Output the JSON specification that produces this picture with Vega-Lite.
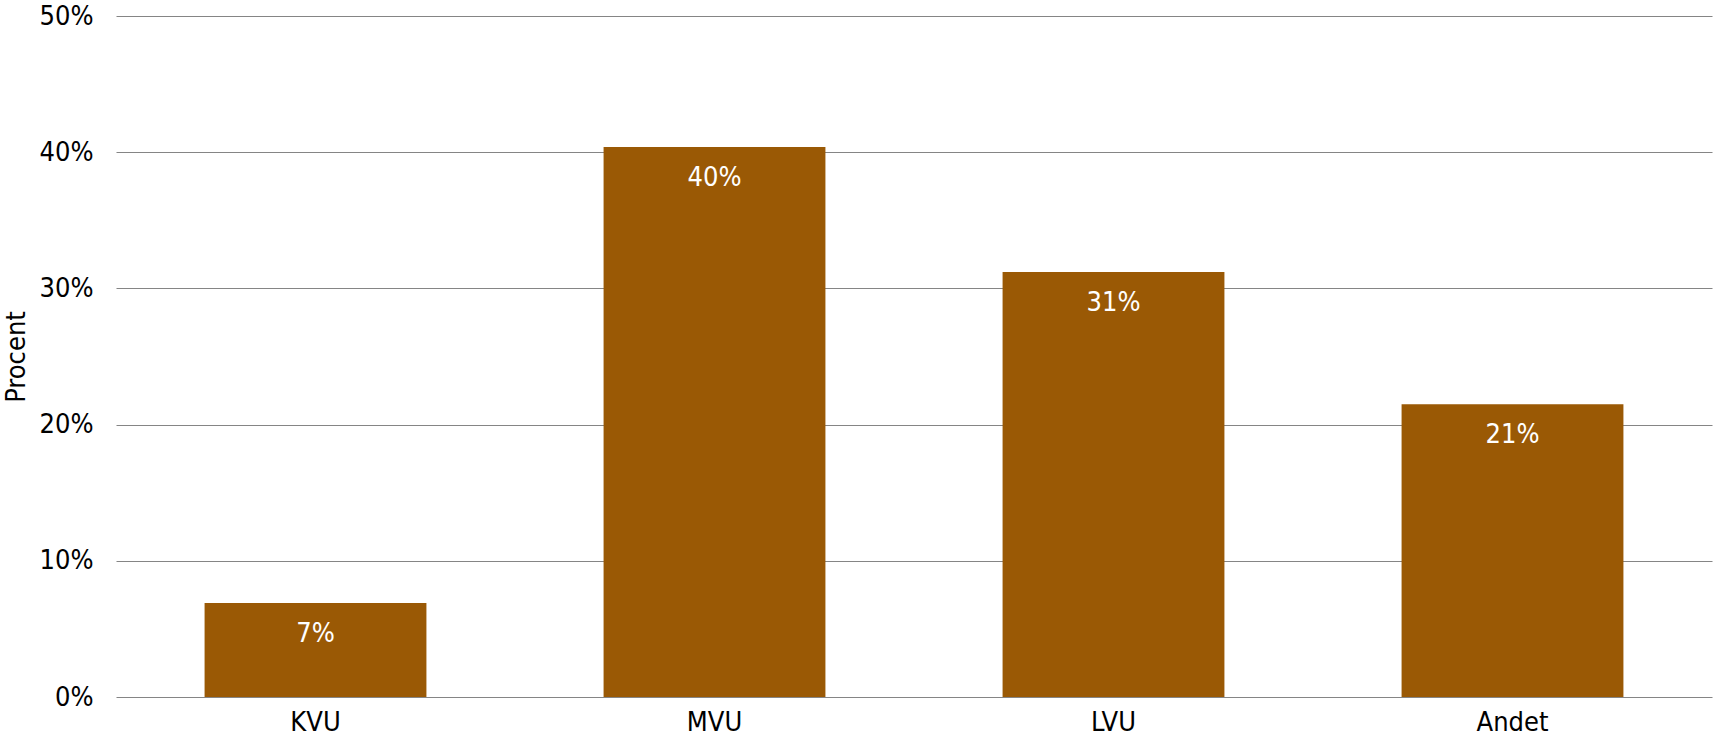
{
  "$schema": "https://vega.github.io/schema/vega-lite/v6.json",
  "autosize": {"type": "none"},
  "width": 1596,
  "height": 681,
  "padding": {"left": 116, "top": 16, "right": 3, "bottom": 42},
  "background": "white",
  "config": {
    "view": {"stroke": null},
    "font": "DejaVu Sans Condensed"
  },
  "data": {
    "values": [
      {"kategori": "KVU", "andel": 0.0691},
      {"kategori": "MVU", "andel": 0.4039},
      {"kategori": "LVU", "andel": 0.3120},
      {"kategori": "Andet", "andel": 0.2149}
    ]
  },
  "encoding": {
    "x": {
      "field": "kategori",
      "type": "nominal",
      "sort": null,
      "scale": {"paddingInner": 0.444, "paddingOuter": 0.222},
      "axis": {
        "title": null,
        "labelAngle": 0,
        "domain": false,
        "ticks": false,
        "labelPadding": 12,
        "labelFontSize": 27,
        "labelColor": "#000000",
        "labelFont": "DejaVu Sans Condensed"
      }
    },
    "y": {
      "field": "andel",
      "type": "quantitative",
      "scale": {"domain": [0, 0.5], "nice": false},
      "axis": {
        "title": "Procent",
        "titleFont": "DejaVu Sans Condensed",
        "titleFontSize": 27,
        "titleFontWeight": "normal",
        "titleColor": "#000000",
        "titlePadding": 9,
        "values": [0, 0.1, 0.2, 0.3, 0.4, 0.5],
        "format": ".0%",
        "domain": false,
        "ticks": false,
        "labelPadding": 23,
        "labelFontSize": 27,
        "labelFont": "DejaVu Sans Condensed",
        "labelColor": "#000000",
        "grid": true,
        "gridColor": "#858585",
        "gridWidth": 1.2
      }
    }
  },
  "layer": [
    {"mark": {"type": "bar", "color": "#9a5905"}},
    {
      "mark": {
        "type": "text",
        "color": "#ffffff",
        "font": "DejaVu Sans Condensed",
        "fontSize": 27,
        "baseline": "middle",
        "dy": 31
      },
      "encoding": {
        "text": {"field": "andel", "type": "quantitative", "format": ".0%"}
      }
    }
  ]
}
